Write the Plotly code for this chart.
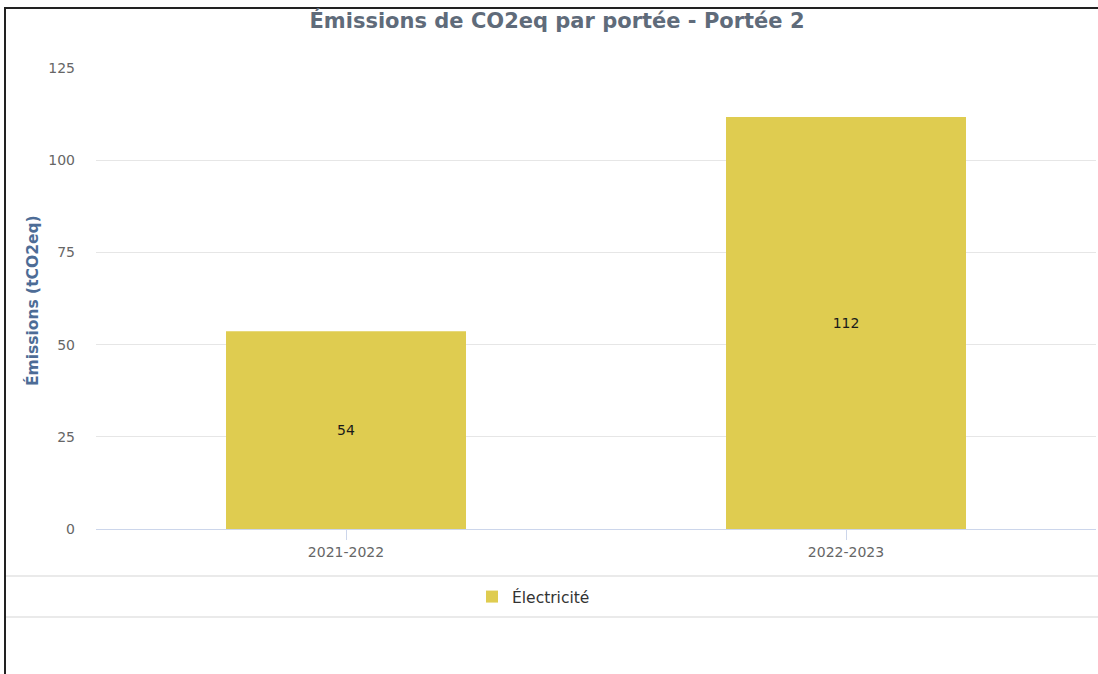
import plotly.graph_objects as go

# data
periods = ["2021-2022", "2022-2023"]
electricite = [53.6, 111.7]
y_ticks = [0, 25, 50, 75, 100, 125]

W, H = 1098, 674
L, R, T, B = 96, 2, 68, 145
plot_w = W - L - R
plot_h = H - T - B


def fx(px):
    """pixel x -> paper x"""
    return (px - L) / plot_w


def py(px):
    """pixel y (from top) -> paper y"""
    return (H - B - px) / plot_h


fig = go.Figure()

fig.add_trace(
    go.Bar(
        x=periods,
        y=electricite,
        name="Électricité",
        marker=dict(color="#DFCC50", line=dict(width=0)),
        width=0.48,
        texttemplate="%{y:.0f}",
        textposition="inside",
        insidetextanchor="middle",
        textfont=dict(color="#1a1a1a", size=14, family="DejaVu Sans"),
    )
)

fig.update_layout(
    width=W,
    height=H,
    margin=dict(l=L, r=R, t=T, b=B),
    paper_bgcolor="white",
    plot_bgcolor="white",
    font=dict(family="DejaVu Sans", color="#666666", size=14),
    title=dict(
        text="<b>Émissions de CO2eq par portée - Portée 2</b>",
        x=557 / W,
        xanchor="center",
        y=1 - 21 / H,
        yanchor="middle",
        yref="container",
        font=dict(size=21, color="#5f6b7a", family="DejaVu Sans"),
    ),
    showlegend=True,
    legend=dict(
        orientation="h",
        x=fx(472),
        xanchor="left",
        y=py(597),
        yanchor="middle",
        font=dict(size=15.5, color="#333333"),
        bgcolor="rgba(0,0,0,0)",
    ),
    xaxis=dict(
        showgrid=False,
        showline=True,
        linecolor="#ccd6eb",
        linewidth=1,
        ticks="outside",
        ticklen=10,
        tickcolor="#ccd6eb",
        tickfont=dict(size=14, color="#666666"),
        fixedrange=True,
    ),
    yaxis=dict(
        range=[0, 125],
        tickvals=y_ticks,
        showgrid=True,
        gridcolor="#e6e6e6",
        zeroline=False,
        showline=False,
        ticklabelstandoff=20,
        tickfont=dict(size=14, color="#666666"),
        fixedrange=True,
    ),
    bargap=0.52,
)

# y axis title
fig.add_annotation(
    text="<b>Émissions (tCO2eq)</b>",
    xref="paper",
    yref="paper",
    x=fx(32),
    y=py(301),
    textangle=-90,
    showarrow=False,
    font=dict(size=15.5, color="#4d6c96"),
    xanchor="center",
    yanchor="middle",
)

# legend separators
for yy in (576, 617):
    fig.add_shape(
        type="line",
        xref="paper",
        yref="paper",
        x0=fx(6),
        x1=fx(W),
        y0=py(yy),
        y1=py(yy),
        line=dict(color="#e3e3e3", width=1.5),
    )

# frame lines (left and top)
fig.add_shape(
    type="line",
    xref="paper",
    yref="paper",
    x0=fx(5),
    x1=fx(5),
    y0=py(7),
    y1=py(H),
    line=dict(color="#222222", width=2),
)
fig.add_shape(
    type="line",
    xref="paper",
    yref="paper",
    x0=fx(4),
    x1=fx(W),
    y0=py(8),
    y1=py(8),
    line=dict(color="#222222", width=2),
)

fig.write_html(
    "out.html",
    config={"displayModeBar": False},
    post_script="document.body.style.margin='0px';",
)
